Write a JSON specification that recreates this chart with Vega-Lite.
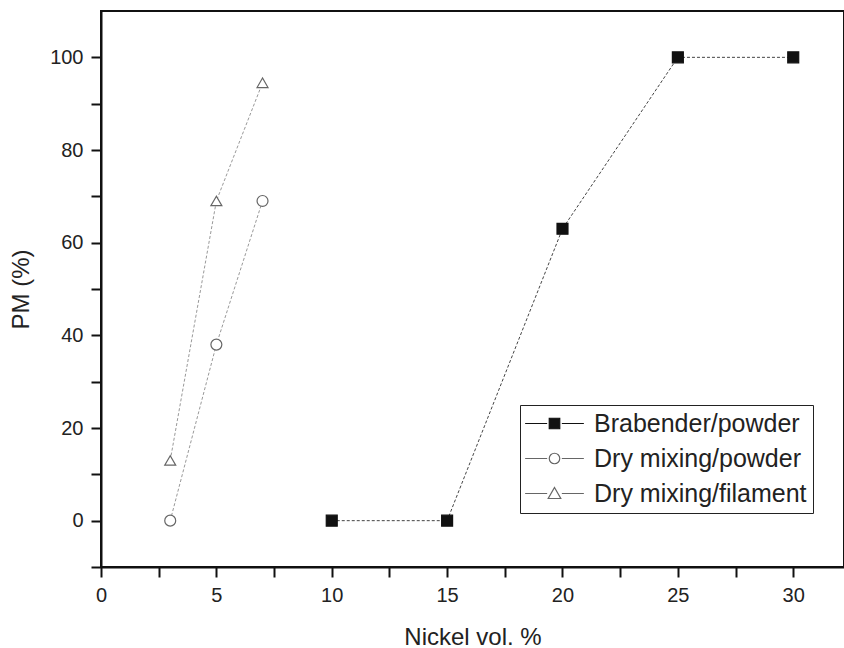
{
  "$schema": "https://vega.github.io/schema/vega-lite/v6.json",
  "autosize": "none",
  "width": 743,
  "height": 556,
  "padding": {"left": 101, "top": 11, "right": 0, "bottom": 81},
  "background": "white",
  "config": {
    "font": "Liberation Sans",
    "view": {"stroke": "#111", "strokeWidth": 2},
    "axis": {"grid": false, "domainColor": "#111", "domainWidth": 2, "tickColor": "#111", "tickWidth": 2, "labelColor": "#222", "titleColor": "#222", "labelFont": "Liberation Sans", "titleFont": "Liberation Sans", "titleFontWeight": "normal"}
  },
  "data": {
    "values": [
      {"series": "Brabender/powder", "x": 10, "y": 0},
      {"series": "Brabender/powder", "x": 15, "y": 0},
      {"series": "Brabender/powder", "x": 20, "y": 63},
      {"series": "Brabender/powder", "x": 25, "y": 100},
      {"series": "Brabender/powder", "x": 30, "y": 100},
      {"series": "Dry mixing/powder", "x": 3, "y": 0},
      {"series": "Dry mixing/powder", "x": 5, "y": 38},
      {"series": "Dry mixing/powder", "x": 7, "y": 69},
      {"series": "Dry mixing/filament", "x": 3, "y": 13},
      {"series": "Dry mixing/filament", "x": 5, "y": 69},
      {"series": "Dry mixing/filament", "x": 7, "y": 94.5}
    ]
  },
  "encoding": {
    "x": {
      "field": "x", "type": "quantitative",
      "scale": {"domain": [0, 32.2], "nice": false, "zero": false},
      "axis": {
        "title": "Nickel vol. %",
        "values": [0, 2.5, 5, 7.5, 10, 12.5, 15, 17.5, 20, 22.5, 25, 27.5, 30],
        "labelExpr": "datum.value % 5 === 0 ? datum.label : ''",
        "tickSize": 10,
        "encode": {"ticks": {"update": {"y2": {"signal": "datum.value % 5 === 0 ? 10 : 5"}}}},
        "labelFontSize": 20, "labelPadding": 8, "labelFlush": false,
        "titleFontSize": 24, "titlePadding": 20
      }
    },
    "y": {
      "field": "y", "type": "quantitative",
      "scale": {"domain": [-10, 110], "nice": false, "zero": false},
      "axis": {
        "title": "PM (%)",
        "values": [-10, 0, 10, 20, 30, 40, 50, 60, 70, 80, 90, 100],
        "labelExpr": "datum.value % 20 === 0 ? datum.label : ''",
        "tickSize": 10,
        "encode": {"ticks": {"update": {"x2": {"signal": "datum.value % 20 === 0 ? -10 : -5"}}}},
        "labelFontSize": 20, "labelPadding": 8, "labelFlush": false,
        "titleFontSize": 24, "titlePadding": 16
      }
    }
  },
  "layer": [
    {
      "transform": [{"filter": "datum.series === 'Brabender/powder'"}],
      "mark": {"type": "line", "color": "#444", "strokeWidth": 1, "strokeDash": [3, 2]},
      "encoding": {"detail": {"field": "series", "type": "nominal"}}
    },
    {
      "transform": [{"filter": "datum.series !== 'Brabender/powder'"}],
      "mark": {"type": "line", "color": "#999", "strokeWidth": 1, "strokeDash": [3, 2]},
      "encoding": {"detail": {"field": "series", "type": "nominal"}}
    },
    {
      "mark": {"type": "point", "filled": false, "strokeWidth": 1.2, "size": 120, "opacity": 1},
      "encoding": {
        "shape": {"condition": [
          {"test": "datum.series === 'Brabender/powder'", "value": "square"},
          {"test": "datum.series === 'Dry mixing/powder'", "value": "circle"}
        ], "value": "triangle-up"},
        "fill": {"condition": {"test": "datum.series === 'Brabender/powder'", "value": "#111"}, "value": "white"},
        "stroke": {"condition": {"test": "datum.series === 'Brabender/powder'", "value": "#111"}, "value": "#666"}
      }
    },
    {
      "mark": {"type": "point", "filled": false, "strokeWidth": 1.2, "opacity": 1},
      "encoding": {
        "size": {"value": 0},
        "shape": {"field": "series", "type": "nominal",
          "scale": {"domain": ["Brabender/powder", "Dry mixing/powder", "Dry mixing/filament"],
            "range": ["M-5.6,0H-1.4M1.4,0H5.6M-1,-1H1V1H-1Z", "M-5.6,0H-1.4M1.4,0H5.6M1,0A1,1 0 1,1 -1,0A1,1 0 1,1 1,0Z", "M-5.6,0H-1.4M1.4,0H5.6M0,-1.15L1.2,0.95L-1.2,0.95Z"]},
          "legend": {
            "title": null, "orient": "none", "legendX": 419, "legendY": 394,
            "strokeColor": "#222", "padding": 6, "fillColor": "white",
            "labelFontSize": 25, "labelColor": "#222", "labelFont": "Liberation Sans", "labelLimit": 500,
            "symbolSize": 110, "symbolOffset": 16, "labelOffset": 27, "rowPadding": 9,
            "symbolStrokeWidth": 1.2, "symbolOpacity": 1
          }
        },
        "fill": {"field": "series", "type": "nominal",
          "scale": {"domain": ["Brabender/powder", "Dry mixing/powder", "Dry mixing/filament"], "range": ["#111", "white", "white"]}},
        "stroke": {"field": "series", "type": "nominal",
          "scale": {"domain": ["Brabender/powder", "Dry mixing/powder", "Dry mixing/filament"], "range": ["#111", "#666", "#666"]}}
      }
    }
  ]
}
